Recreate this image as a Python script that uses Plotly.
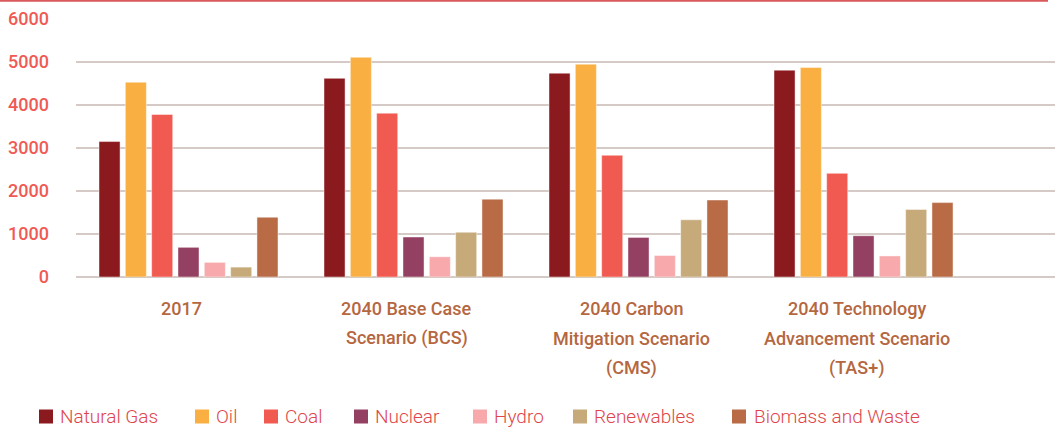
import plotly.graph_objects as go

# ---------------- data ----------------
categories = ["2017", "2040 BCS", "2040 CMS", "2040 TAS+"]
category_lines = [
    ["2017"],
    ["2040 Base Case", "Scenario (BCS)"],
    ["2040 Carbon", "Mitigation Scenario", "(CMS)"],
    ["2040 Technology", "Advancement Scenario", "(TAS+)"],
]
series_names = ["Natural Gas", "Oil", "Coal", "Nuclear", "Hydro", "Renewables", "Biomass and Waste"]
natural_gas = [3150, 4620, 4740, 4810]
oil = [4530, 5110, 4950, 4870]
coal = [3780, 3810, 2830, 2410]
nuclear = [690, 930, 920, 960]
hydro = [340, 470, 500, 490]
renewables = [230, 1040, 1330, 1570]
biomass = [1390, 1810, 1790, 1730]
series_values = [natural_gas, oil, coal, nuclear, hydro, renewables, biomass]
y_ticks = [0, 1000, 2000, 3000, 4000, 5000, 6000]

# ---------------- style ----------------
colors = ["#8B1A1F", "#F9AF42", "#F15A50", "#944062", "#F7A9AC", "#C6AA7A", "#B86B45"]
W, H = 1060, 429
L, R, T, B = 76, 5, 19, 152
plot_w = W - L - R
plot_h = H - T - B

def px_x(px):
    return (px - L) / plot_w

def px_y(py):
    return (H - B - py) / plot_h

fig = go.Figure()
for name, vals, col in zip(series_names, series_values, colors):
    fig.add_trace(go.Bar(
        x=categories, y=vals, name=name,
        marker=dict(color=col, line=dict(color="rgba(255,255,255,0.45)", width=1)),
        showlegend=False,
    ))

fig.update_layout(
    width=W, height=H,
    margin=dict(l=L, r=R, t=T, b=B),
    paper_bgcolor="white", plot_bgcolor="white",
    barmode="group", bargap=0.181, bargroupgap=0.2,
    font=dict(family="Roboto, sans-serif"),
    xaxis=dict(
        type="category", range=[-0.5, 3.851], showticklabels=False,
        showgrid=False, zeroline=False, showline=False, ticks="",
    ),
    yaxis=dict(
        range=[0, 6000], tickvals=y_ticks, ticktext=[str(v) for v in y_ticks],
        showgrid=True, gridcolor="#D6CAC7", gridwidth=2,
        zeroline=True, zerolinecolor="#D6CAC7", zerolinewidth=2,
        showline=False, ticks="", ticklabelstandoff=26,
        tickfont=dict(family="Roboto", size=18, color="#EF5A55", weight=500),
    ),
)

# category labels (multi-line, 29.5px line spacing)
line_y = [308.5, 338, 367.5]
for idx, lines in enumerate(category_lines):
    for i, txt in enumerate(lines):
        fig.add_annotation(
            x=idx, xref="x", y=px_y(line_y[i]), yref="paper",
            text=txt, showarrow=False, xanchor="center", yanchor="middle",
            xshift=-7,
            font=dict(family="Roboto", size=18, color="#B5673F", weight=500),
        )

# top red rule
fig.add_shape(type="line", xref="paper", yref="paper",
              x0=px_x(0), x1=px_x(1048), y0=px_y(0.8), y1=px_y(0.8),
              line=dict(color="#D9585A", width=2))

# legend built from series names / colors
legend_square_px = [39, 195, 264, 354, 473, 573, 732]
legend_text_px = [58, 214, 283, 373, 492, 592, 752]
leg_cy = 416.5
for name, col, sx, tx in zip(series_names, colors, legend_square_px, legend_text_px):
    fig.add_shape(type="rect", xref="paper", yref="paper",
                  x0=px_x(sx), x1=px_x(sx + 14), y0=px_y(leg_cy + 7), y1=px_y(leg_cy - 7),
                  fillcolor=col, line=dict(width=0))
    fig.add_annotation(
        x=px_x(tx), xref="paper", y=px_y(leg_cy), yref="paper",
        text=name, showarrow=False, xanchor="left", yanchor="middle",
        font=dict(family="Roboto", size=19, color="#E0454B", weight=300),
    )

fig.write_html(
    "out.html",
    config={"displayModeBar": False},
    post_script="document.body.style.margin='0';document.body.style.overflow='hidden';",
)
